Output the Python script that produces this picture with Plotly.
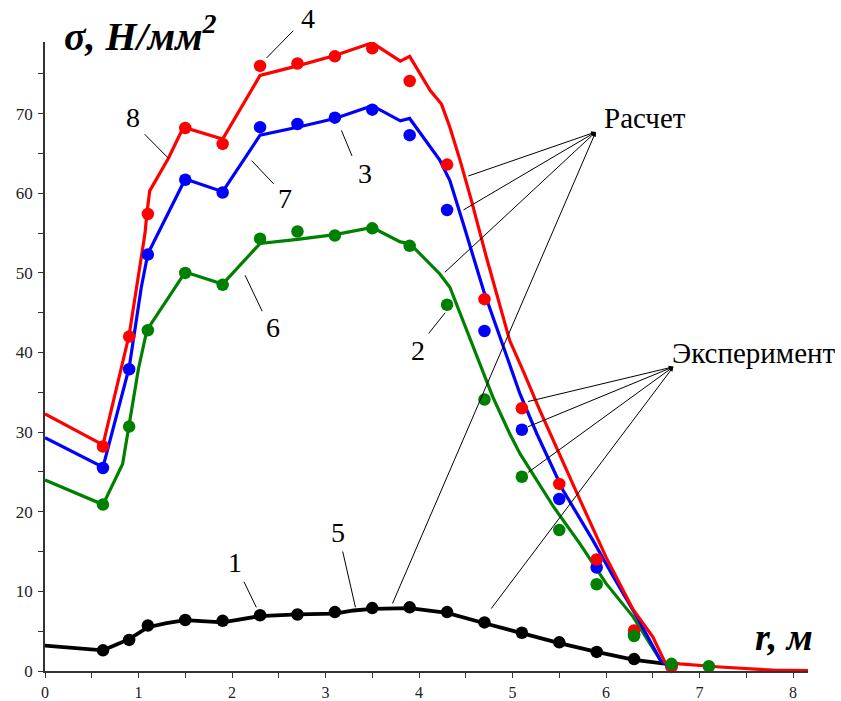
import plotly.graph_objects as go

# ---------------- data ----------------
# experimental points (markers)
exp_r = [0.62, 0.9, 1.1, 1.5, 1.9, 2.3, 2.7, 3.1, 3.5, 3.9, 4.3, 4.7, 5.1, 5.5, 5.9, 6.3, 6.7, 7.1]
exp_black = [2.6, 3.9, 5.7, 6.4, 6.3, 7.0, 7.1, 7.4, 7.9, 8.0, 7.4, 6.1, 4.8, 3.6, 2.4, 1.5]
exp_green = [20.9, 30.7, 42.8, 50.0, 48.5, 54.3, 55.2, 54.7, 55.6, 53.4, 46.0, 34.1, 24.4, 17.7, 10.9, 4.4, 0.9, 0.6]
exp_blue = [25.5, 37.9, 52.3, 61.7, 60.1, 68.3, 68.7, 69.5, 70.5, 67.3, 57.9, 42.7, 30.3, 21.6, 13.0, 4.6, 0.6]
exp_red = [28.2, 42.0, 57.4, 68.2, 66.2, 76.0, 76.3, 77.2, 78.2, 74.1, 63.6, 46.7, 33.0, 23.5, 14.0, 5.1, 0.5]

# calculated curves (lines)
calc_black_r = [0, 0.5, 0.62, 0.9, 1.1, 1.3, 1.5, 1.9, 2.3, 2.7, 3.1, 3.3, 3.5, 3.9, 4.3, 4.7, 5.1, 5.5, 5.9, 6.3, 6.65]
calc_black = [3.2, 2.75, 2.6, 4.0, 5.5, 6.0, 6.4, 6.1, 6.9, 7.1, 7.2, 7.6, 7.8, 7.9, 7.3, 6.0, 4.7, 3.5, 2.4, 1.4, 0.9]

calc_green_r = [0, 0.62, 0.83, 0.9, 1.0, 1.09, 1.5, 1.9, 2.3, 2.7, 3.1, 3.5, 3.8, 3.9, 4.22, 4.33, 4.47,
                4.62, 4.79, 4.97, 5.08, 5.44, 5.72, 6.0, 6.29, 6.58, 6.65]
calc_green = [24.0, 20.9, 26.0, 30.8, 38.0, 42.8, 50.1, 48.6, 53.7, 54.2, 54.8, 55.7, 53.9, 53.7, 49.9, 48.2, 44.0,
              39.4, 34.4, 29.8, 27.3, 20.6, 16.0, 11.0, 6.8, 1.4, 0.75]

calc_blue_r = [0, 0.62, 0.9, 1.03, 1.1, 1.5, 1.9, 2.3, 2.7, 3.1, 3.5, 3.8, 3.9, 4.22, 4.33, 4.4, 4.47, 4.69,
               4.9, 5.08, 5.26, 5.54, 5.86, 6.08, 6.33, 6.58, 6.65]
calc_blue = [29.3, 25.6, 38.1, 48.2, 52.4, 61.8, 60.2, 67.3, 68.3, 69.4, 71.0, 69.1, 69.4, 64.2, 61.6, 59.1, 56.3, 47.8,
             40.7, 34.8, 29.8, 22.7, 16.4, 11.8, 6.8, 1.4, 0.8]

calc_red_r = [0, 0.62, 0.9, 1.03, 1.07, 1.09, 1.12, 1.32, 1.48, 1.9, 2.3, 2.7, 3.1, 3.5, 3.8, 3.9, 4.12, 4.24,
              4.33, 4.44, 4.56, 4.72, 4.97, 5.11, 5.29, 5.69, 6.0, 6.29, 6.5, 6.63, 6.79, 7.22, 7.79, 8.16]
calc_red = [32.3, 28.4, 42.2, 52.0, 55.0, 57.5, 60.3, 64.4, 68.3, 66.8, 74.8, 76.0, 77.3, 78.9, 76.6, 77.2, 72.9, 71.2,
            68.3, 64.1, 59.1, 52.0, 41.5, 37.8, 32.8, 22.3, 14.3, 7.7, 4.3, 1.1, 0.9, 0.5, 0.1, 0.05]

x_ticks = [0, 1, 2, 3, 4, 5, 6, 7, 8]
y_ticks = [0, 10, 20, 30, 40, 50, 60, 70]

# ---------------- styles ----------------
RED = "#ff0000"
BLUE = "#0000ff"
GREEN = "#008000"
BLACK = "#000000"
SERIF = "Liberation Serif"

fig = go.Figure()

for xr, yv, col, w in [(calc_black_r, calc_black, BLACK, 3.8),
                       (calc_green_r, calc_green, GREEN, 3.2),
                       (calc_blue_r, calc_blue, BLUE, 3.2),
                       (calc_red_r, calc_red, RED, 3.2)]:
    fig.add_trace(go.Scatter(x=xr, y=yv, mode="lines", line=dict(color=col, width=w),
                             showlegend=False, cliponaxis=False, hoverinfo="skip"))

for yv, col in [(exp_black, BLACK), (exp_blue, BLUE), (exp_red, RED), (exp_green, GREEN)]:
    fig.add_trace(go.Scatter(x=exp_r[:len(yv)], y=yv, mode="markers",
                             marker=dict(color=col, size=12.5, line=dict(width=0)),
                             showlegend=False, cliponaxis=False, hoverinfo="skip"))

annotations = []

# numbered labels with thin leader lines
labels = [
    ("8", 0.94, 69.5, 1.05, 67.6, 1.32, 64.4),
    ("7", 2.57, 59.3, 2.46, 61.0, 2.21, 64.1),
    ("3", 3.42, 62.5, 3.29, 64.5, 3.17, 67.9),
    ("6", 2.44, 43.2, 2.33, 45.0, 2.14, 49.7),
    ("2", 3.99, 40.3, 4.09, 42.2, 4.28, 45.0),
    ("1", 2.03, 13.6, 2.12, 11.4, 2.26, 8.0),
    ("5", 3.13, 17.4, 3.18, 15.2, 3.32, 8.0),
]
for txt, tx, ty, x0, y0, x1, y1 in labels:
    annotations.append(dict(x=tx, y=ty, xref="x", yref="y", text=txt, showarrow=False,
                            font=dict(family=SERIF, size=28, color="black")))
    annotations.append(dict(x=x1, y=y1, ax=x0, ay=y0, xref="x", yref="y", axref="x", ayref="y",
                            text="", showarrow=True, arrowhead=0, arrowwidth=1, arrowcolor="black",
                            standoff=0, startstandoff=0))

# label "4" sits above the plotting area -> paper coordinates for the text
annotations.append(dict(x=2.81, y=1.065, xref="x", yref="paper", text="4", showarrow=False,
                        font=dict(family=SERIF, size=28, color="black")))
annotations.append(dict(x=2.37, y=77.0, ax=2.67, ay=80.6, xref="x", yref="y", axref="x", ayref="y",
                        text="", showarrow=True, arrowhead=0, arrowwidth=1, arrowcolor="black",
                        standoff=0, startstandoff=0))

# "Расчет" group
annotations.append(dict(x=6.42, y=69.5, xref="x", yref="y", text="Расчет", showarrow=False,
                        font=dict(family=SERIF, size=29, color="black")))
for tx, ty in [(4.51, 62.1), (4.46, 57.8), (4.26, 49.9), (3.71, 8.3)]:
    annotations.append(dict(x=5.89, y=67.7, ax=tx, ay=ty, xref="x", yref="y", axref="x", ayref="y",
                            text="", showarrow=True, arrowhead=2, arrowsize=0.9, arrowwidth=1,
                            arrowcolor="black", standoff=0))

# "Эксперимент" group
annotations.append(dict(x=7.58, y=40.0, xref="x", yref="y", text="Эксперимент", showarrow=False,
                        font=dict(family=SERIF, size=29, color="black")))
for tx, ty in [(5.15, 33.8), (5.15, 30.6), (5.15, 24.8), (4.76, 7.65)]:
    annotations.append(dict(x=6.72, y=38.2, ax=tx, ay=ty, xref="x", yref="y", axref="x", ayref="y",
                            text="", showarrow=True, arrowhead=2, arrowsize=0.9, arrowwidth=1,
                            arrowcolor="black", standoff=0))

# axis titles
annotations.append(dict(x=1.02, y=1.058, xref="x", yref="paper", text="<b><i>σ, Н/мм<sup>2</sup></i></b>",
                        showarrow=False, font=dict(family=SERIF, size=40, color="black")))
annotations.append(dict(x=7.9, y=4.3, xref="x", yref="y", text="<b><i>r, м</i></b>",
                        showarrow=False, font=dict(family=SERIF, size=38, color="black")))

axis_common = dict(showgrid=False, zeroline=False, showline=True, linecolor="#333333", linewidth=1.5,
                   ticks="outside", ticklen=5, tickwidth=1.2, tickcolor="#333333", automargin=False)

fig.update_layout(
    width=841, height=701,
    margin=dict(l=45, r=33, t=42, b=30),
    paper_bgcolor="white", plot_bgcolor="white",
    xaxis=dict(range=[0, 8.16], tickvals=x_ticks,
               minor=dict(dtick=0.5, ticks="outside", ticklen=5, tickcolor="#333333", tickwidth=1.2),
               ticklabelstandoff=1, tickfont=dict(family=SERIF, size=16, color="#222222"),
               **axis_common),
    yaxis=dict(range=[0, 79], tickvals=y_ticks,
               minor=dict(dtick=5, ticks="outside", ticklen=5, tickcolor="#333333", tickwidth=1.2),
               ticklabelstandoff=2, tickfont=dict(family=SERIF, size=17, color="#222222"),
               **axis_common),
    annotations=annotations,
)

fig.write_html("out.html")
